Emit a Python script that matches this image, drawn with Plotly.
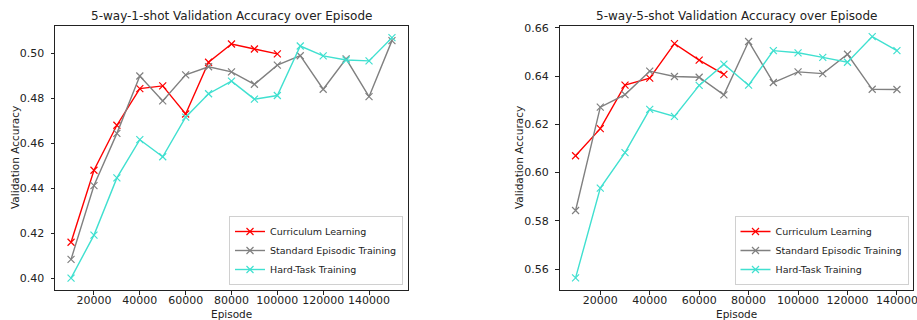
import plotly.graph_objects as go

# ---------------- data ----------------
episodes_1shot = [10000, 20000, 30000, 40000, 50000, 60000, 70000, 80000, 90000, 100000,
                  110000, 120000, 130000, 140000, 150000]
curriculum_1shot = [0.416, 0.448, 0.468, 0.4843, 0.4855, 0.473, 0.496, 0.5041, 0.5019, 0.4997]
standard_1shot = [0.4084, 0.4412, 0.4644, 0.4899, 0.4788, 0.4904, 0.4940, 0.4917, 0.4862, 0.4947,
                  0.4989, 0.4840, 0.4975, 0.4807, 0.5056]
hard_1shot = [0.4001, 0.4192, 0.4446, 0.4616, 0.4540, 0.4716, 0.4820, 0.4876, 0.4796, 0.4812,
              0.5032, 0.4988, 0.4970, 0.4966, 0.5069]

episodes_5shot = [10000, 20000, 30000, 40000, 50000, 60000, 70000, 80000, 90000, 100000,
                  110000, 120000, 130000, 140000]
curriculum_5shot = [0.6070, 0.6182, 0.6362, 0.6391, 0.6534, 0.6466, 0.6407]
standard_5shot = [0.5843, 0.6271, 0.6323, 0.6420, 0.6398, 0.6395, 0.6322, 0.6543, 0.6373, 0.6417,
                  0.6410, 0.6490, 0.6345, 0.6344]
hard_5shot = [0.5564, 0.5936, 0.6083, 0.6262, 0.6233, 0.6361, 0.6449, 0.6362, 0.6505, 0.6496,
              0.6477, 0.6457, 0.6563, 0.6505]

series_names = ["Curriculum Learning", "Standard Episodic Training", "Hard-Task Training"]
series_colors = ["#ff0000", "#808080", "#40e0d0"]

x_ticks = [20000, 40000, 60000, 80000, 100000, 120000, 140000]
y_ticks_1shot = [0.40, 0.42, 0.44, 0.46, 0.48, 0.50]
y_ticks_5shot = [0.56, 0.58, 0.60, 0.62, 0.64, 0.66]

titles = ["5-way-1-shot Validation Accuracy over Episode",
          "5-way-5-shot Validation Accuracy over Episode"]
x_label = "Episode"
y_label = "Validation Accuracy"

# ---------------- figure ----------------
W, H = 917, 320
FONT = "DejaVu Sans"
TXT = "#222"
fig = go.Figure()

def add_series(xs, ys, name, color, xa, ya, legend):
    fig.add_trace(go.Scatter(
        x=xs[:len(ys)], y=ys, name=name, mode="lines+markers",
        line=dict(color=color, width=1.4),
        marker=dict(symbol="x-thin", size=7, line=dict(color=color, width=1.2), color=color),
        xaxis=xa, yaxis=ya, legend=legend,
    ))

for ys, n, c in zip([curriculum_1shot, standard_1shot, hard_1shot], series_names, series_colors):
    add_series(episodes_1shot, ys, n, c, "x", "y", "legend")
for ys, n, c in zip([curriculum_5shot, standard_5shot, hard_5shot], series_names, series_colors):
    add_series(episodes_5shot, ys, n, c, "x2", "y2", "legend2")

def px_x(p):
    return p / W

def px_y(p):
    return 1 - p / H

ydom = [px_y(290), px_y(26)]
axis_common = dict(
    showline=True, linecolor=TXT, linewidth=1, mirror=True,
    ticks="outside", ticklen=3.5, tickcolor=TXT, tickwidth=0.8,
    showgrid=False, zeroline=False, automargin=False,
    tickfont=dict(family=FONT, size=11, color=TXT),
    ticklabeloverflow="allow",
)
xaxis_common = dict(tickvals=x_ticks, tickformat="d", ticklabelstandoff=-4, **axis_common)
yaxis_common = dict(tickformat=".2f", ticklabelstandoff=4, **axis_common)

legend_common = dict(
    xanchor="right", yanchor="bottom",
    bgcolor="rgba(255,255,255,0.8)", bordercolor="#d0d0d0", borderwidth=1,
    font=dict(family=FONT, size=9.5, color=TXT), tracegroupgap=0, itemwidth=30,
)

dom1 = [55, 408]
dom2 = [559.5, 913]

fig.update_layout(
    width=W, height=H,
    margin=dict(l=0, r=0, t=0, b=0),
    paper_bgcolor="white", plot_bgcolor="white",
    font=dict(family=FONT, color=TXT),
    xaxis=dict(domain=[px_x(dom1[0]), px_x(dom1[1])], range=[3000, 157000], anchor="y", **xaxis_common),
    yaxis=dict(domain=ydom, range=[0.3948, 0.5121], tickvals=y_ticks_1shot, anchor="x", **yaxis_common),
    xaxis2=dict(domain=[px_x(dom2[0]), px_x(dom2[1])], range=[3500, 146500], anchor="y2", **xaxis_common),
    yaxis2=dict(domain=ydom, range=[0.5514, 0.6607], tickvals=y_ticks_5shot, anchor="x2", **yaxis_common),
    legend=dict(x=px_x(403), y=px_y(285), **legend_common),
    legend2=dict(x=px_x(908.5), y=px_y(285), **legend_common),
    showlegend=True,
)

for t, dom, ylx in zip(titles, [dom1, dom2], [15, 519]):
    cx = px_x((dom[0] + dom[1]) / 2)
    fig.add_annotation(text=t, x=cx, y=px_y(16), xref="paper", yref="paper",
                       showarrow=False, xanchor="center", yanchor="middle",
                       font=dict(family=FONT, size=12, color=TXT))
    fig.add_annotation(text=x_label, x=cx, y=px_y(314), xref="paper", yref="paper",
                       showarrow=False, xanchor="center", yanchor="middle",
                       font=dict(family=FONT, size=10.5, color=TXT))
    fig.add_annotation(text=y_label, x=px_x(ylx), y=px_y(158), xref="paper", yref="paper",
                       showarrow=False, xanchor="center", yanchor="middle", textangle=-90,
                       font=dict(family=FONT, size=10.5, color=TXT))

fig.write_html(
    "out.html",
    config={"displayModeBar": False},
    post_script="document.body.style.margin='0';document.body.style.padding='0';"
                "document.body.style.overflow='hidden';",
)
